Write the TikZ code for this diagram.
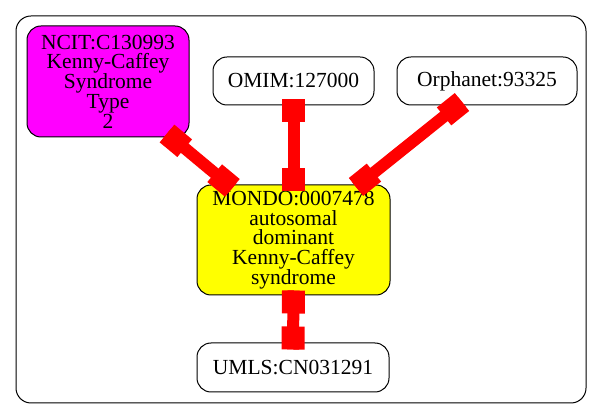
\documentclass[tikz,border=0pt]{standalone}
\usepackage{fontspec}
\setmainfont{Liberation Serif}
\usetikzlibrary{calc,decorations.markings}
\definecolor{ncitcol}{HTML}{FF00FF}
\definecolor{mondocol}{HTML}{FFFF00}
\definecolor{edgered}{HTML}{FF0000}
\tikzset{
  nodebox/.style={draw=black, line width=1pt, rounded corners=14pt, inner sep=0pt,
    align=center, font=\fontsize{21.5}{19.75}\selectfont},
  biedge/.style={draw=edgered, line width=12pt,
    postaction={decorate, decoration={markings,
      mark=at position 0 with {\fill[edgered] (0pt,-11.5pt) rectangle (23pt,11.5pt);},
      mark=at position 1 with {\fill[edgered] (-23pt,-11.5pt) rectangle (0pt,11.5pt);}}}}
}
\begin{document}
\begin{tikzpicture}[x=1pt,y=-1pt]
\useasboundingbox (0,0) rectangle (603,419);
\draw[line width=1pt, rounded corners=15pt] (16,16) rectangle (586,403);
\node[nodebox, fill=ncitcol, minimum width=162pt, minimum height=111pt] (ncit) at (108,81.5)
  {NCIT:C130993\\Kenny-Caffey\\Syndrome\\Type\\2};
\node[nodebox, fill=white, minimum width=161pt, minimum height=48pt] (omim) at (293.5,81)
  {OMIM:127000};
\node[nodebox, fill=white, minimum width=180pt, minimum height=48pt] (orpha) at (487,81)
  {Orphanet:93325};
\node[nodebox, fill=mondocol, minimum width=193pt, minimum height=110pt] (mondo) at (293.5,240)
  {MONDO:0007478\\autosomal\\dominant\\Kenny-Caffey\\syndrome};
\node[nodebox, fill=white, minimum width=192pt, minimum height=49pt] (umls) at (293,367.5)
  {UMLS:CN031291};
\path[biedge] ($(ncit.south east)+(-22.5,-4)$) -- ($(mondo.north west)+(36,3.5)$);
\path[biedge] ($(omim.south)+(0,-6)$) -- ($(mondo.north)+(0,7)$);
\path[biedge] ($(orpha.south west)+(65.5,-3.5)$) -- ($(mondo.north east)+(-34.5,2.5)$);
\path[biedge] ($(mondo.south)+(0,-5)$) -- ($(umls.north)+(0,7)$);
\end{tikzpicture}
\end{document}
